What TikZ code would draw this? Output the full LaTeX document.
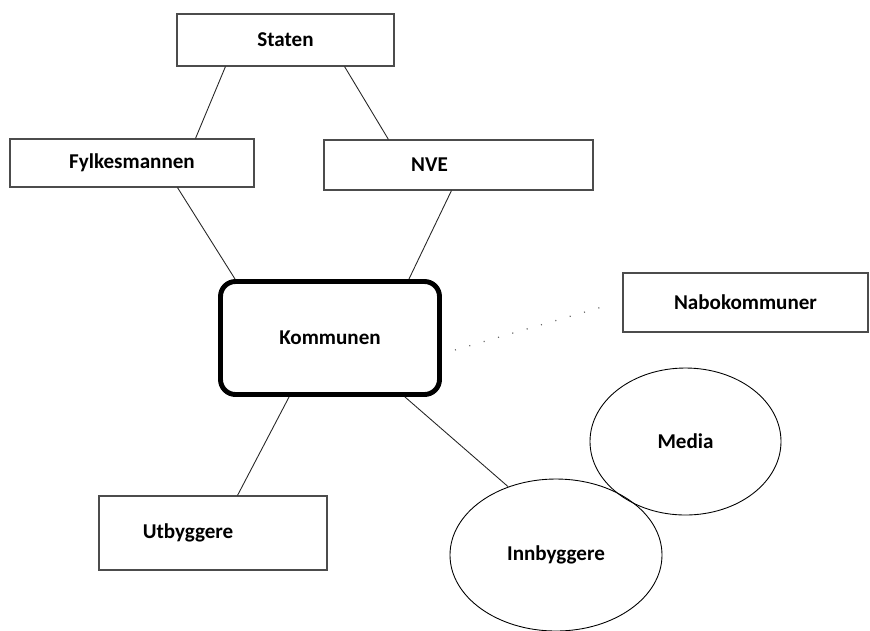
\documentclass[tikz,border=0pt]{standalone}
\usepackage{fontspec}
\setmainfont{Carlito}
\usetikzlibrary{shapes.geometric}
\tikzstyle{box} = [rectangle, draw=black!70, line width=0.6pt, text centered, font=\fontsize{12}{14}\selectfont\bfseries]
\tikzstyle{hub} = [rectangle, rounded corners=0.3cm, minimum width=4.38cm, minimum height=2.26cm, text centered, draw=black, line width=2.8pt, font=\fontsize{12}{14}\selectfont\bfseries]
\tikzstyle{circ} = [ellipse, draw=black, line width=0.5pt, text centered, font=\fontsize{12}{14}\selectfont\bfseries]
\tikzstyle{link} = [line width=0.5pt, black!85]
\tikzstyle{loose} = [line width=0.7pt, black!60, dash pattern=on 0.6pt off 7.9pt]

\begin{document}
\begin{tikzpicture}[node distance=2cm]
\useasboundingbox (0,0) rectangle (17.4,-12.6);
\node (staten) [box, minimum width=4.34cm, minimum height=1.04cm] at (5.71,-0.80) {Staten};
\node (fylkes) [box, minimum width=4.88cm, minimum height=0.96cm, below of=staten, xshift=-3.07cm, yshift=-0.46cm] {Fylkesmannen};
\node (nve) [box, minimum width=5.38cm, minimum height=1.0cm, below of=staten, xshift=3.46cm, yshift=-0.50cm] {NVE\hspace*{1.16cm}};
\node (kommunen) [hub, below of=fylkes, xshift=3.96cm, yshift=-1.50cm] {Kommunen};
\node (nabo) [box, minimum width=4.9cm, minimum height=1.18cm, below of=nve, xshift=5.74cm, yshift=-0.75cm] {Nabokommuner};
\node (media) [circ, minimum width=3.82cm, minimum height=2.94cm, below of=nabo, xshift=-1.20cm, yshift=-0.78cm] {Media};
\node (innb) [circ, minimum width=4.24cm, minimum height=3.04cm, below of=kommunen, xshift=4.52cm, yshift=-2.34cm] {Innbyggere};
\node (utby) [box, minimum width=4.56cm, minimum height=1.48cm, below of=kommunen, xshift=-2.34cm, yshift=-1.90cm] {Utbyggere\hspace*{1cm}};

\draw [link] ([xshift=0.98cm]staten.south west) -- ([xshift=3.72cm]fylkes.north west);
\draw [link] ([xshift=-1.0cm]staten.south east) -- ([xshift=1.30cm]nve.north west);
\draw [link] ([xshift=3.36cm]fylkes.south west) -- ([xshift=0.34cm]kommunen.north west);
\draw [link] ([xshift=2.56cm]nve.south west) -- ([xshift=-0.66cm]kommunen.north east);
\draw [link] ([xshift=1.42cm]kommunen.south west) -- ([xshift=2.78cm]utby.north west);
\draw [link] ([xshift=-0.74cm]kommunen.south east) -- (innb.125);
\draw [loose] ([xshift=0.26cm,yshift=-0.24cm]kommunen.east) -- ([xshift=-0.34cm,yshift=-0.07cm]nabo.west);
\end{tikzpicture}
\end{document}
